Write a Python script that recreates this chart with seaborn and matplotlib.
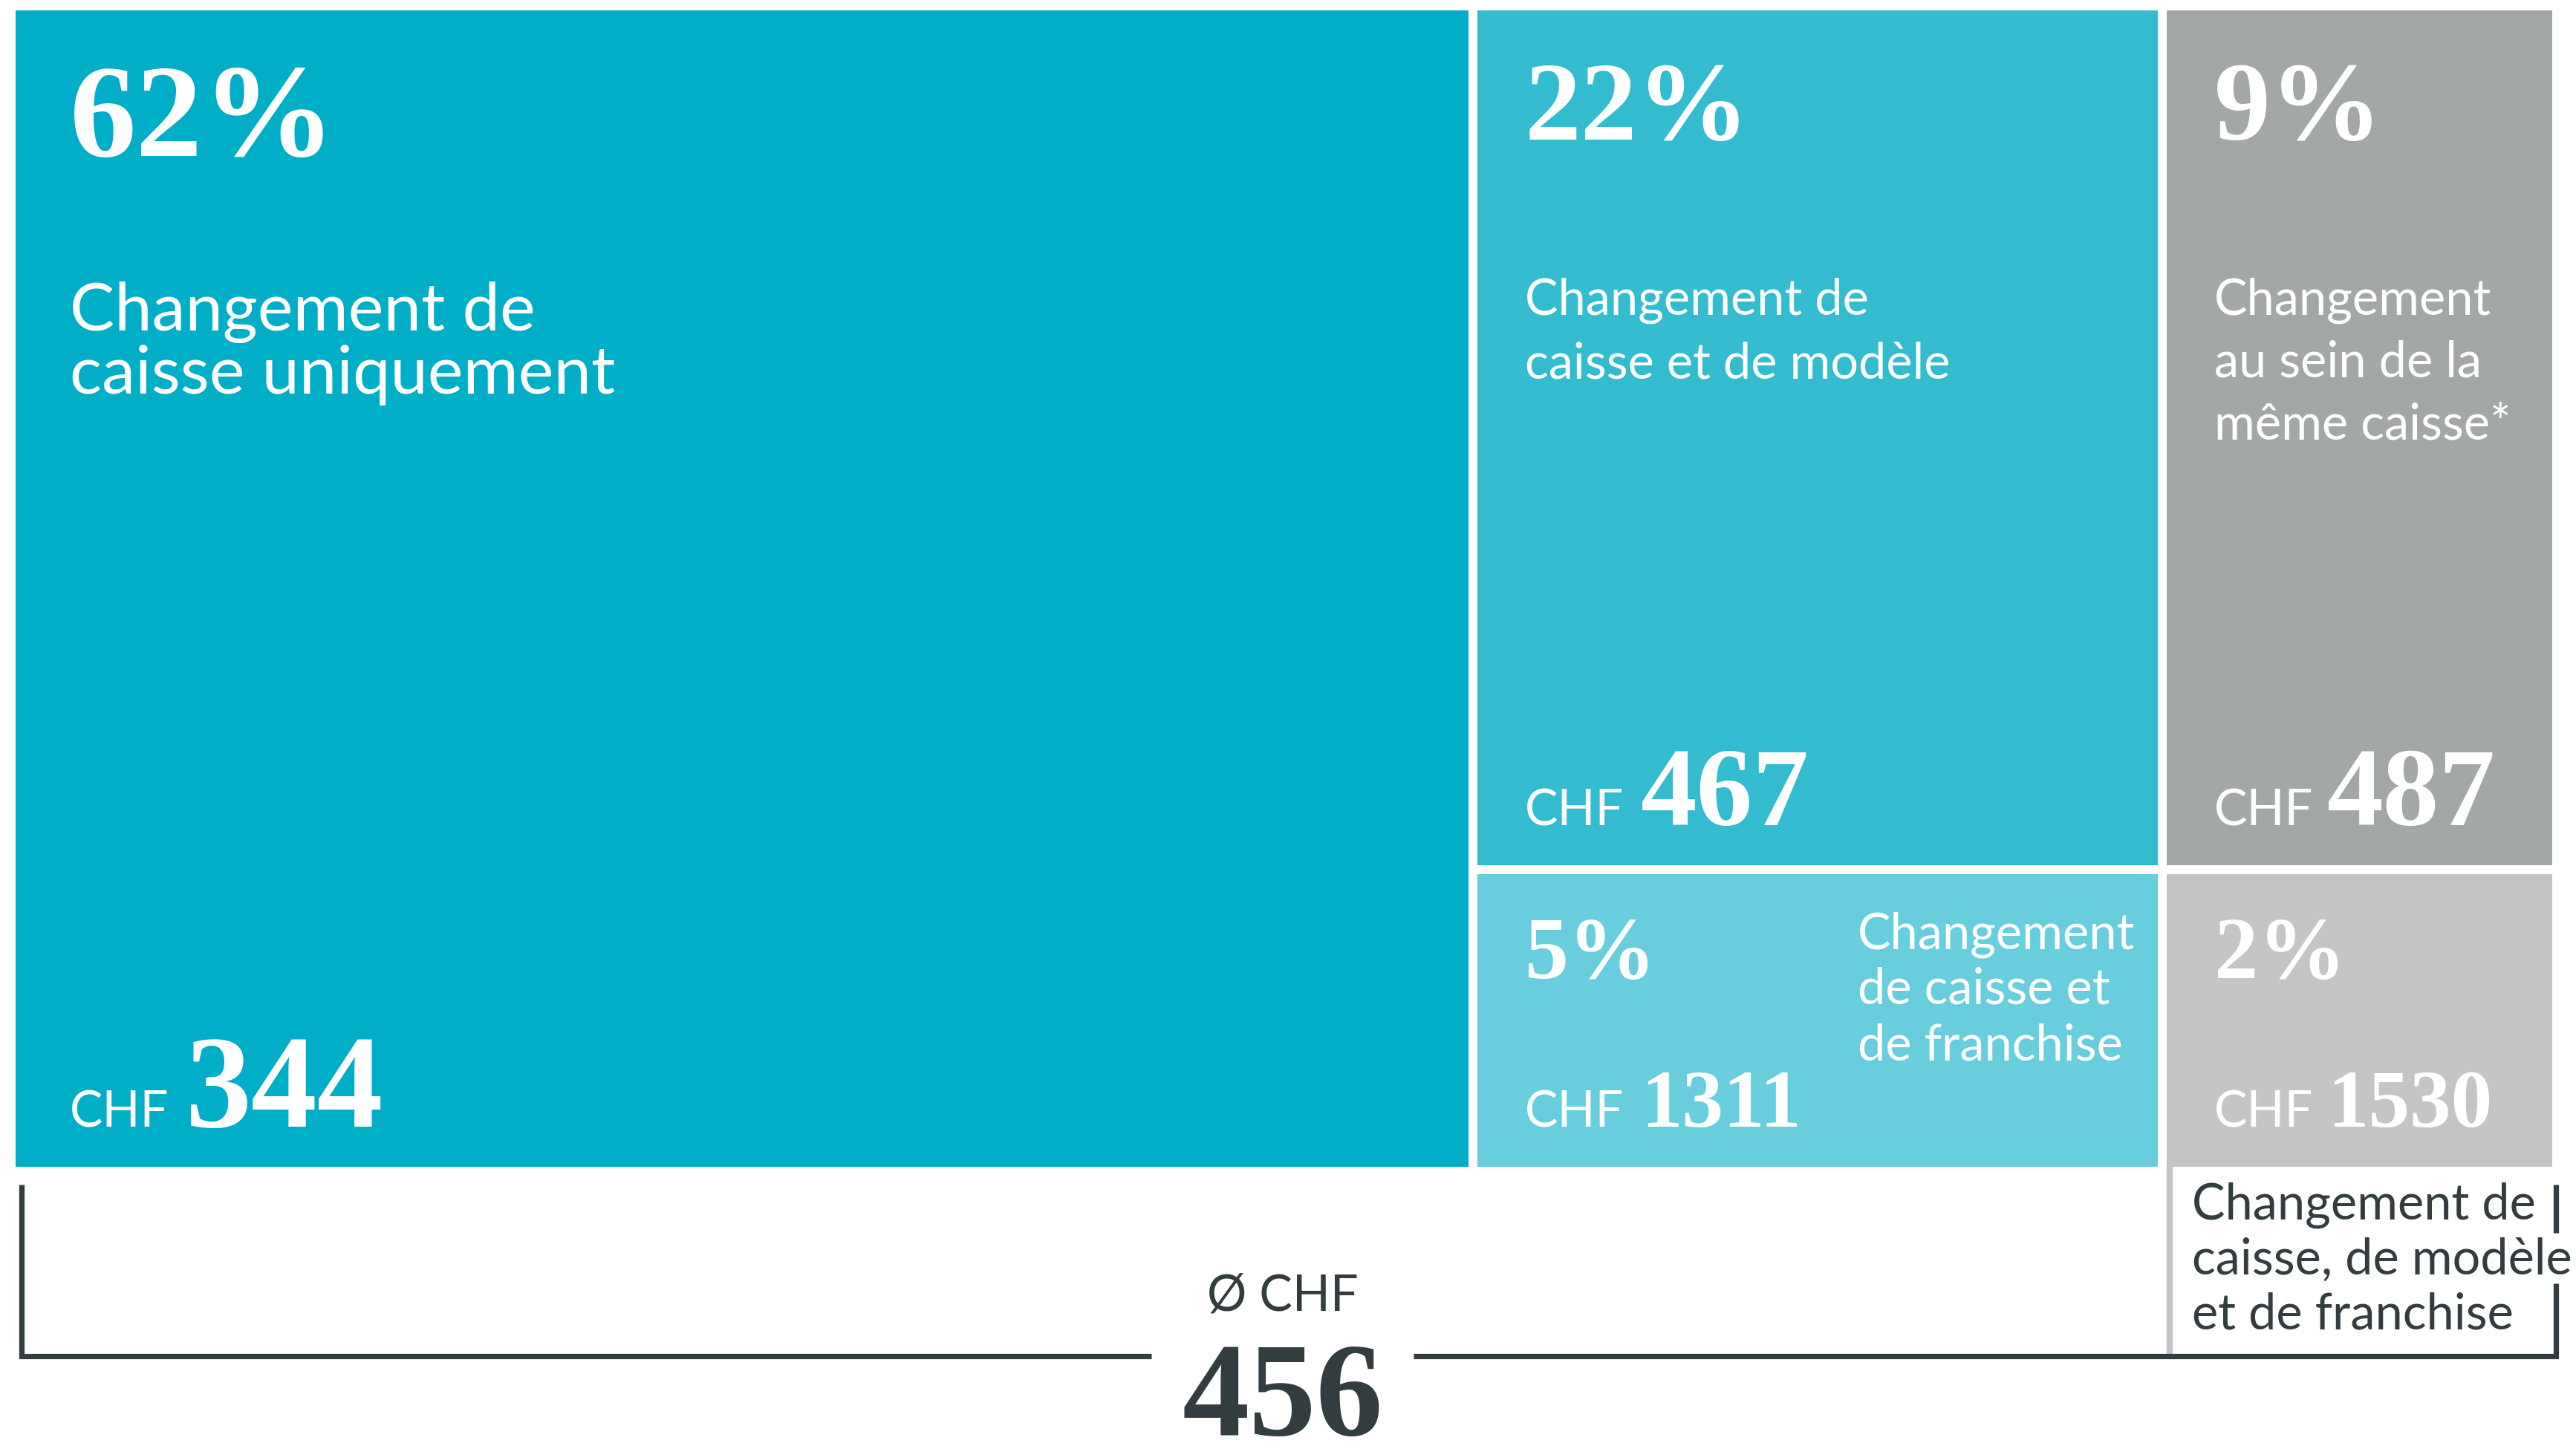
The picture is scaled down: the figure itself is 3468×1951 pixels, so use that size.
import pandas as pd
import seaborn as sns
from matplotlib import pyplot as plt

# data
labels = [
    "Changement de\ncaisse uniquement",
    "Changement de\ncaisse et de modèle",
    "Changement\nau sein de la\nmême caisse*",
    "Changement\nde caisse et\nde franchise",
    "Changement de\ncaisse, de modèle\net de franchise",
]
shares = [62, 22, 9, 5, 2]          # % of changes
costs = [344, 467, 487, 1311, 1530]  # CHF saved
average_cost = 456

# styling
palette = ["#00AEC7", "#33BBD0", "#A4A7A8", "#68CEDE", "#C4C5C7"]
dark = "#333C3E"
sans = "Lato"
serif = "Liberation Serif"

# treemap grid (canvas units = output pixels)
W, H = 3468, 1951
cols = [(21, 1977), (1989, 2905), (2917, 3436)]
rows = [(14, 1165), (1177, 1571)]
# which grid cell each category sits in: (col, first row, last row)
cells = [(0, 0, 1), (1, 0, 0), (2, 0, 0), (1, 1, 1), (2, 1, 1)]

df = pd.DataFrame({"label": labels, "share": shares, "cost": costs, "color": palette})
df["left"] = [cols[c][0] for c, r0, r1 in cells]
df["width"] = [cols[c][1] - cols[c][0] for c, r0, r1 in cells]
df["top"] = [rows[r0][0] for c, r0, r1 in cells]
df["height"] = [rows[r1][1] - rows[r0][0] for c, r0, r1 in cells]

sns.set_theme(style="white")
plt.rcParams["font.family"] = [sans, "DejaVu Sans"]

fig = plt.figure(figsize=(W / 100, H / 100), dpi=100)
ax = fig.add_axes([0, 0, 1, 1])
ax.set_xlim(0, W)
ax.set_ylim(H, 0)
ax.axis("off")

ax.bar(df.left, df.height, width=df.width, bottom=df.top, align="edge",
       color=df.color, linewidth=0)

# text offsets and sizes per box
styles = [
    dict(pad=73, pct=129, lab=65, step=85, val=128, lab_y=431, lab_x=73, val_dx=156, pct_y=196),
    dict(pad=64, pct=109, lab=48, step=86, val=109, lab_y=409, lab_x=64, val_dx=156, pct_y=174),
    dict(pad=64, pct=109, lab=48, step=84, val=109, lab_y=409, lab_x=64, val_dx=152, pct_y=174),
    dict(pad=64, pct=85, lab=48, step=75, val=80, lab_y=100, lab_x=512, val_dx=156, pct_y=140),
    dict(pad=64, pct=85, lab=48, step=75, val=80, lab_y=None, lab_x=34, val_dx=152, pct_y=140),
]

for i, row in df.iterrows():
    s = styles[i]
    x0 = row.left + s["pad"]
    bottom = row.top + row.height
    # percentage
    ax.text(x0, row.top + s["pct_y"], f"{row.share}%", color="white", fontsize=s["pct"],
            family=serif, weight="bold", va="baseline", ha="left")
    # CHF value
    ax.text(x0, bottom - 54, "CHF", color="white", fontsize=48, va="baseline", ha="left")
    ax.text(x0 + s["val_dx"], bottom - 54, str(row.cost), color="white", fontsize=s["val"],
            family=serif, weight="bold", va="baseline", ha="left")
    # description
    if s["lab_y"] is not None:
        for k, line in enumerate(row.label.split("\n")):
            ax.text(row.left + s["lab_x"], row.top + s["lab_y"] + k * s["step"], line,
                    color="white", fontsize=s["lab"], va="baseline", ha="left")
    else:
        for k, line in enumerate(row.label.split("\n")):
            ax.text(row.left + s["lab_x"], bottom + 71 + k * 74, line,
                    color=dark, fontsize=48, va="baseline", ha="left")

# bracket under the chart with the average
base = 1826
last = df.iloc[-1]
ax.plot([last.left + 4, last.left + 4], [last.top + last.height, base], color="#C4C5C7",
        lw=6, solid_capstyle="butt")
ax.plot([29, 29, 1550], [1595, base, base], color=dark, lw=5.2,
        solid_capstyle="butt", solid_joinstyle="miter")
ax.plot([1903, 3441, 3441], [base, base, 1728], color=dark, lw=5.2,
        solid_capstyle="butt", solid_joinstyle="miter")
ax.plot([3441, 3441], [1595, 1660], color=dark, lw=5.2, solid_capstyle="butt")

ax.text(1727, 1765, "Ø CHF", color=dark, fontsize=48, va="baseline", ha="center")
ax.text(1727, 1932, str(average_cost), color=dark, fontsize=130, family=serif,
        weight="bold", va="baseline", ha="center")

fig.savefig("out.png", dpi=100, facecolor="white")
